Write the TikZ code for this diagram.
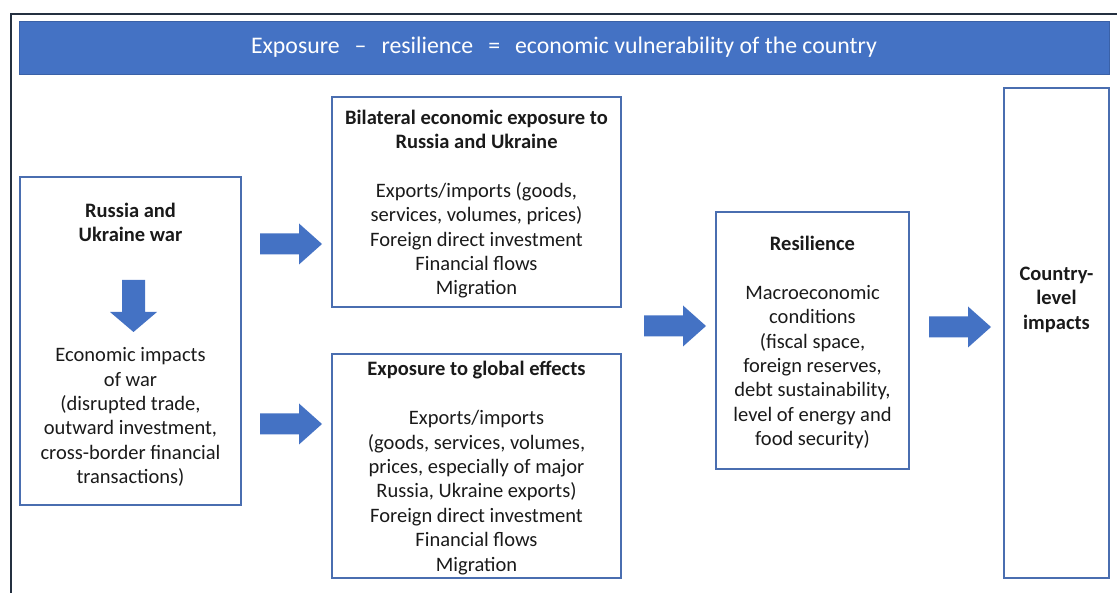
\documentclass[tikz,border=0pt]{standalone}
\usepackage{fontspec}
\setmainfont{Carlito}
\usetikzlibrary{positioning}
\definecolor{arrowblue}{HTML}{4472C4}
\definecolor{boxblue}{HTML}{4A6EB0}
\definecolor{framedark}{HTML}{243040}
\definecolor{txt}{HTML}{1A1A1A}
\tikzset{
  box/.style={draw=boxblue, line width=1.1pt, inner sep=0pt},
  label/.style={inner sep=0pt, text=txt, align=center, yshift=-2pt,
    font=\fontsize{20.5}{24.4}\selectfont},
  rarrow/.pic={\fill[arrowblue] (0,-10.5) -- (39,-10.5) -- (39,-20.5) -- (62,0)
    -- (39,20.5) -- (39,10.5) -- (0,10.5) -- cycle;},
  darrow/.pic={\fill[arrowblue] (-11.5,0) -- (11.5,0) -- (11.5,32) -- (23.5,32)
    -- (0,52) -- (-23.5,32) -- (-11.5,32) -- cycle;}
}
\begin{document}
\begin{tikzpicture}[x=1pt, y=-1pt]
\useasboundingbox (0,0) rectangle (1117,593);

% frame and banner
\draw[framedark, line width=2.3pt] (10.7,593) -- (10.7,14) -- (1117,14);
\node[fill=arrowblue, draw=arrowblue!85!black, line width=0.6pt, minimum width=1090pt,
  minimum height=53pt, inner sep=0pt, text=white, font=\fontsize{23.8}{28}\selectfont]
  (banner) at (564,47.5)
  {Exposure\hspace{15pt}–\hspace{15pt}resilience\hspace{15pt}=\hspace{15pt}economic vulnerability of the country};

% boxes
\node[box, minimum width=221pt, minimum height=328pt] (war) at (130.5,341) {};
\node[box, minimum width=289pt, minimum height=210pt] (bilat) at (476.5,202) {};
\node[box, minimum width=289pt, minimum height=224pt] (global) at (476.5,466) {};
\node[box, minimum width=193pt, minimum height=257pt] (resil) at (812.5,340.5) {};
\node[box, minimum width=105pt, minimum height=490pt] (country) at (1056.5,333) {};

% texts
\node[label] (bilattext) at (bilat)
  {\textbf{Bilateral economic exposure to}\\\textbf{Russia and Ukraine}\\[24.4pt]
   Exports/imports (goods,\\services, volumes, prices)\\Foreign direct investment\\
   Financial flows\\Migration};
\node[label] (globaltext) at (global)
  {\textbf{Exposure to global effects}\\[24.4pt]
   Exports/imports\\(goods, services, volumes,\\prices, especially of major\\
   Russia, Ukraine exports)\\Foreign direct investment\\Financial flows\\Migration};
\node[label] (resiltext) at (resil)
  {\textbf{Resilience}\\[24.4pt]
   Macroeconomic\\conditions\\(fiscal space,\\foreign reserves,\\
   debt sustainability,\\level of energy and\\food security)};
\node[label] (wartitle) at (130.5,220.5) {\textbf{Russia and}\\\textbf{Ukraine war}};
\node[label] (warimpact) at (130.5,415)
  {Economic impacts\\of war\\(disrupted trade,\\outward investment,\\
   cross-border financial\\transactions)};
\node[label] (countrytext) at (1056.5,297.5) {\textbf{Country-}\\\textbf{level}\\\textbf{impacts}};

% block arrows
\pic (warDown) at (133.5,280) {darrow};
\pic (toBilat) at (260,244) {rarrow};
\pic (toGlobal) at (260,424) {rarrow};
\pic (toResil) at (644,326) {rarrow};
\pic (toCountry) at (929,327) {rarrow};
\end{tikzpicture}
\end{document}
